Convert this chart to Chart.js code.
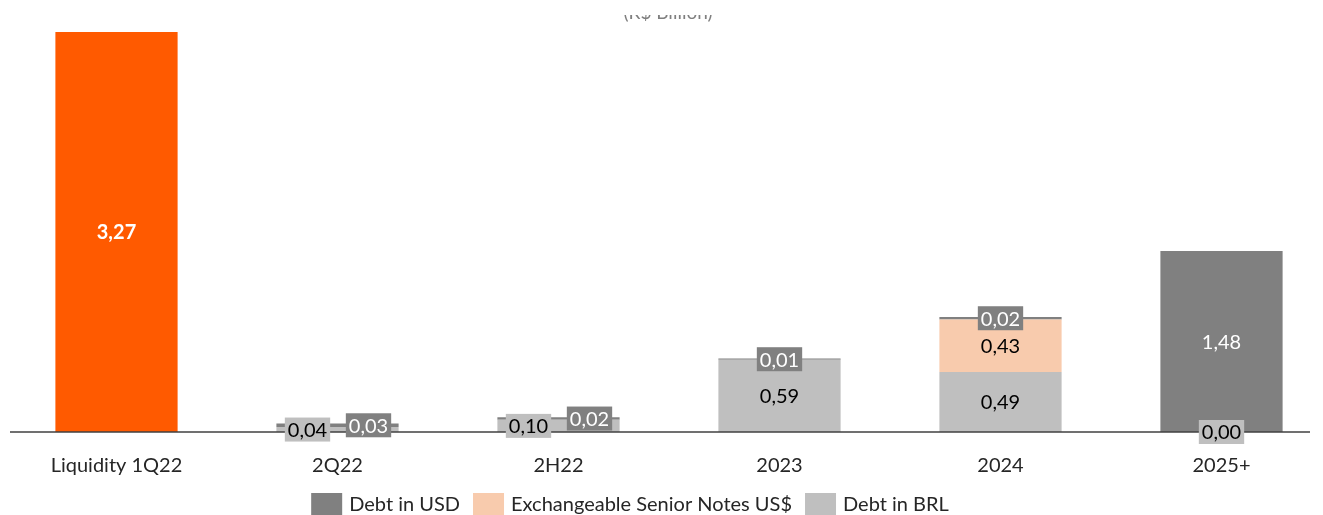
<!DOCTYPE html>
<html>
<head>
<meta charset="utf-8">
<script src="https://cdn.jsdelivr.net/npm/chart.js@4.4.1/dist/chart.umd.min.js"></script>
<style>
  html, body { margin: 0; padding: 0; background: #fff; overflow: hidden; }
  #wrap { width: 1340px; height: 515px; }
</style>
</head>
<body>
<div id="wrap"><canvas id="chart" width="1340" height="515"></canvas></div>
<script>
const categories = ['Liquidity 1Q22', '2Q22', '2H22', '2023', '2024', '2025+'];
const liquidity = [3.27, null, null, null, null, null];
const debtBRL = [null, 0.04, 0.10, 0.59, 0.49, 0.00];
const exchangeableNotes = [null, null, null, null, 0.43, null];
const debtUSD = [null, 0.03, 0.02, 0.01, 0.02, 1.48];

const FONT = 'Lato, "Open Sans", sans-serif';

// labels of the tiny bars were pulled sideways in the original
const labelShifts = {
  '2Q22': { 'Debt in BRL': -30, 'Debt in USD': 31 },
  '2H22': { 'Debt in BRL': -30, 'Debt in USD': 31 }
};

const barLabels = {
  id: 'barLabels',
  afterDatasetsDraw(chart) {
    const ctx = chart.ctx;
    const y0 = chart.scales.y.getPixelForValue(0);

    ctx.save();
    ctx.strokeStyle = '#404040';
    ctx.lineWidth = 1.5;
    ctx.beginPath();
    ctx.moveTo(10, y0);
    ctx.lineTo(1310, y0);
    ctx.stroke();

    chart.data.datasets.forEach((ds, di) => {
      const meta = chart.getDatasetMeta(di);
      meta.data.forEach((bar, i) => {
        const v = ds.data[i];
        if (v === null || v === undefined) return;
        const top = Math.min(bar.y, bar.base);
        const bottom = Math.max(bar.y, bar.base);
        const shift = (labelShifts[categories[i]] || {})[ds.label] || 0;
        const x = bar.x + shift;
        const y = (top + bottom) / 2;
        const text = v.toFixed(2).replace('.', ',');
        ctx.font = ds.labelFont;
        ctx.textAlign = 'center';
        ctx.textBaseline = 'middle';
        if (bottom - top < 24) {
          const w = ctx.measureText(text).width + 6;
          ctx.fillStyle = ds.backgroundColor;
          ctx.fillRect(x - w / 2, y - 12, w, 24);
        }
        ctx.fillStyle = ds.labelColor;
        ctx.fillText(text, x, y + 1);
      });
    });
    ctx.restore();
  },
  afterDraw(chart) {
    const ctx = chart.ctx;
    ctx.save();
    // title, cropped at the top like the source image
    ctx.beginPath();
    ctx.rect(0, 15, chart.width, 20);
    ctx.clip();
    ctx.font = '19px ' + FONT;
    ctx.fillStyle = '#7f7f7f';
    ctx.textAlign = 'center';
    ctx.textBaseline = 'alphabetic';
    ctx.fillText('(R$ Billion)', 668, 19);
    ctx.restore();

    // legend
    ctx.save();
    ctx.font = '20px ' + FONT;
    ctx.textBaseline = 'middle';
    ctx.textAlign = 'left';
    const items = chart.data.datasets.filter(d => d.inLegend).reverse();
    const boxW = 31, boxH = 22, gapText = 7, gapItem = 13;
    let total = 0;
    items.forEach((d, k) => {
      total += boxW + gapText + ctx.measureText(d.label).width + (k < items.length - 1 ? gapItem : 0);
    });
    let x = 630 - total / 2;
    items.forEach(d => {
      ctx.fillStyle = d.backgroundColor;
      ctx.fillRect(x, 493, boxW, boxH);
      x += boxW + gapText;
      ctx.fillStyle = '#262626';
      ctx.fillText(d.label, x, 505);
      x += ctx.measureText(d.label).width + gapItem;
    });
    ctx.restore();
  }
};

new Chart(document.getElementById('chart'), {
  type: 'bar',
  plugins: [barLabels],
  data: {
    labels: categories,
    datasets: [
      {
        label: 'Liquidity',
        data: liquidity,
        backgroundColor: '#FF5A00',
        labelColor: '#ffffff',
        labelFont: 'bold 20px ' + FONT,
        inLegend: false
      },
      {
        label: 'Debt in BRL',
        data: debtBRL,
        backgroundColor: '#BFBFBF',
        labelColor: '#000000',
        labelFont: '20px ' + FONT,
        inLegend: true
      },
      {
        label: 'Exchangeable Senior Notes US$',
        data: exchangeableNotes,
        backgroundColor: '#F8CBAD',
        labelColor: '#000000',
        labelFont: '20px ' + FONT,
        inLegend: true
      },
      {
        label: 'Debt in USD',
        data: debtUSD,
        backgroundColor: '#808080',
        labelColor: '#ffffff',
        labelFont: '20px ' + FONT,
        inLegend: true
      }
    ]
  },
  options: {
    responsive: false,
    animation: false,
    layout: { padding: { left: 6, right: 8, top: 32, bottom: 0 } },
    datasets: {
      bar: { barPercentage: 0.553, categoryPercentage: 1, stack: 'all', borderWidth: 0 }
    },
    scales: {
      x: {
        stacked: true,
        grid: { display: false, drawTicks: false },
        border: { display: false },
        ticks: { color: '#262626', font: { family: FONT, size: 20 }, padding: 22, maxRotation: 0 },
        afterFit: (scale) => { scale.height = 83; }
      },
      y: {
        stacked: true,
        display: false,
        min: 0,
        max: 3.27
      }
    },
    plugins: {
      legend: { display: false },
      tooltip: { enabled: false }
    }
  }
});
</script>
</body>
</html>
